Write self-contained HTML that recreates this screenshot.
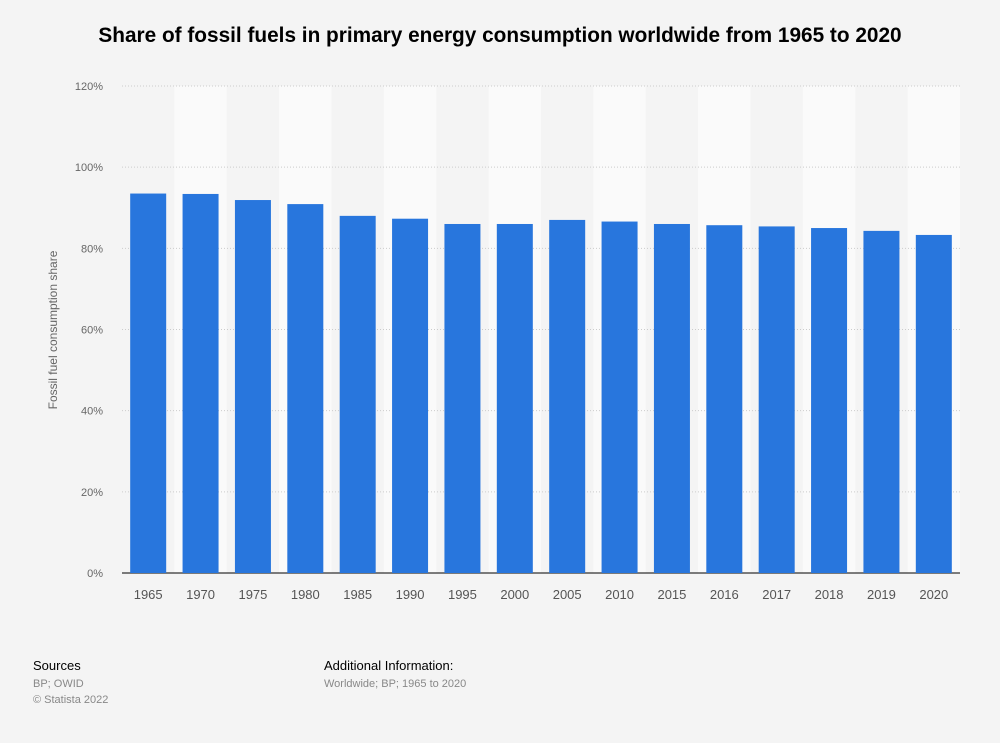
<!DOCTYPE html>
<html><head><meta charset="utf-8"><style>
body{margin:0;background:#f4f4f4;font-family:"Liberation Sans",sans-serif;}
svg{display:block}
</style></head><body>
<svg id="c" width="1000" height="743">
<text x="500" y="42" text-anchor="middle" font-size="20.8" font-weight="bold" fill="#000">Share of fossil fuels in primary energy consumption worldwide from 1965 to 2020</text>
<text transform="translate(57,330) rotate(-90)" text-anchor="middle" font-size="12" fill="#666">Fossil fuel consumption share</text>
<g id="bands"></g><g id="grid"></g><g id="bars"></g><g id="xl"></g>
<text x="33" y="670" font-size="13" fill="#000">Sources</text>
<text x="33" y="687" font-size="11" fill="#888">BP; OWID</text>
<text x="33" y="703" font-size="11" fill="#888">© Statista 2022</text>
<text x="324" y="670" font-size="13" fill="#000">Additional Information:</text>
<text x="324" y="687" font-size="11" fill="#888">Worldwide; BP; 1965 to 2020</text>
</svg>
<script>
const categories=["1965","1970","1975","1980","1985","1990","1995","2000","2005","2010","2015","2016","2017","2018","2019","2020"];
const values=[93.5,93.4,91.9,90.9,88.0,87.3,86.0,86.0,87.0,86.6,86.0,85.7,85.4,85.0,84.3,83.3];
const yTicks=[0,20,40,60,80,100,120];
const NS="http://www.w3.org/2000/svg";
const x0=122,x1=960,y0=573,y1=86;
const bw=(x1-x0)/categories.length;
const y=v=>y0-(v/120)*(y0-y1);
const xb=i=>x0+i*bw;
function mk(p,t,a){const e=document.createElementNS(NS,t);for(const k in a)e.setAttribute(k,a[k]);document.getElementById(p).appendChild(e);return e;}
categories.forEach((c,i)=>{
 if(i%2==1){const r=mk("bands","rect",{x:xb(i),y:y1,width:bw,height:y0-y1,fill:"#fafafa"});
 
 }
});
yTicks.forEach(t=>{
 const l=mk("grid","line",{x1:x0,x2:x1,y1:y(t),y2:y(t),stroke:t==0?"#000":"#ccc","stroke-dasharray":t==0?"":"1,2","stroke-width":1});
 
 
 const tx=mk("grid","text",{x:103,y:y(t)+4,"text-anchor":"end","font-size":11,fill:"#666"});
 tx.textContent=t+"%";
 
 
});
categories.forEach((c,i)=>{
 const w=36,bx=xb(i)+(bw-w)/2;
 const r=mk("bars","rect",{x:bx,y:y(values[i]),width:w,height:y0-y(values[i]),fill:"#2876dd"});
 
 
 const t=mk("xl","text",{x:xb(i)+bw/2,y:599,"text-anchor":"middle","font-size":13,fill:"#555"});
 t.textContent=c;
 
 
});
</script>
</body></html>
